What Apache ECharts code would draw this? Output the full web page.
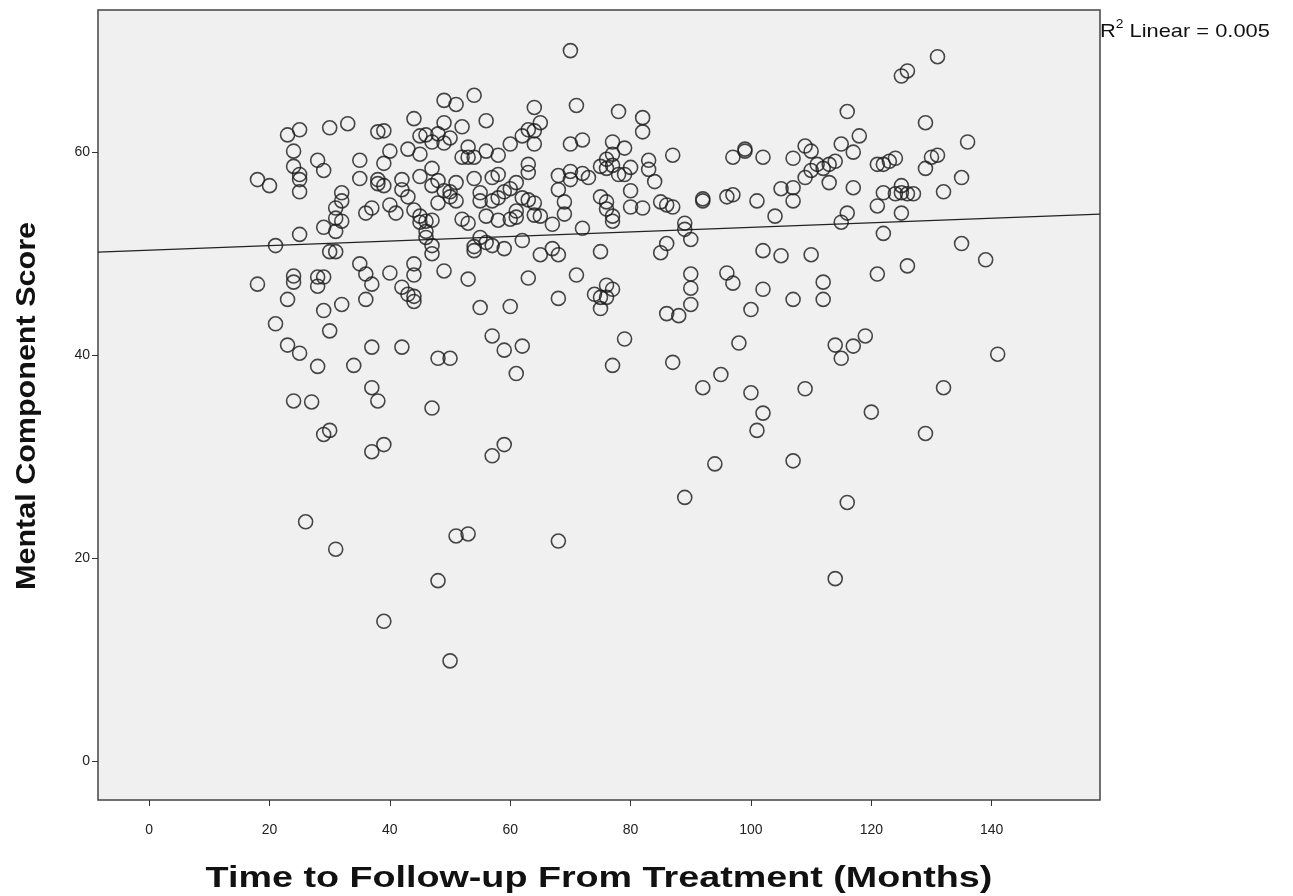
<!DOCTYPE html>
<html>
<head>
<meta charset="utf-8">
<script src="https://cdn.jsdelivr.net/npm/echarts@6/dist/echarts.min.js"></script>
<style>
  html, body { margin: 0; padding: 0; background: #fff; }
  #chart { width: 1293px; height: 896px; }
</style>
</head>
<body>
<div id="chart"></div>
<script>
// follow-up time (months) and mental component score, one entry per patient
const months = [
  18, 18,
  20,
  21, 21,
  23, 23, 23,
  24, 24, 24, 24, 24,
  25, 25, 25, 25, 25, 25,
  26,
  27,
  28, 28, 28, 28,
  29, 29, 29, 29, 29,
  30, 30, 30, 30,
  31, 31, 31, 31, 31,
  32, 32, 32, 32,
  33,
  34,
  35, 35, 35,
  36, 36, 36,
  37, 37, 37, 37, 37,
  38, 38, 38, 38,
  39, 39, 39, 39, 39,
  40, 40, 40,
  41,
  42, 42, 42, 42,
  43, 43, 43,
  44, 44, 44, 44, 44, 44,
  45, 45, 45, 45, 45,
  46, 46, 46, 46,
  47, 47, 47, 47, 47, 47, 47,
  48, 48, 48, 48, 48,
  49, 49, 49, 49, 49,
  50, 50, 50, 50, 50,
  51, 51, 51, 51,
  52, 52, 52,
  53, 53, 53, 53, 53,
  54, 54, 54, 54, 54,
  55, 55, 55, 55,
  56, 56, 56, 56,
  57, 57, 57, 57, 57,
  58, 58, 58, 58,
  59, 59, 59, 59,
  60, 60, 60, 60,
  61, 61, 61, 61,
  62, 62, 62, 62,
  63, 63, 63, 63, 63,
  64, 64, 64, 64, 64,
  65, 65, 65,
  67, 67,
  68, 68, 68, 68, 68,
  69, 69,
  70, 70, 70, 70,
  71, 71,
  72, 72, 72,
  73,
  74,
  75, 75, 75, 75, 75,
  76, 76, 76, 76, 76, 76,
  77, 77, 77, 77, 77, 77, 77,
  78, 78,
  79, 79, 79,
  80, 80, 80,
  82, 82, 82,
  83, 83,
  84,
  85, 85,
  86, 86, 86,
  87, 87, 87,
  88,
  89, 89, 89,
  90, 90, 90, 90,
  92, 92, 92,
  94,
  95,
  96, 96,
  97, 97, 97,
  98,
  99, 99,
  100, 100,
  101, 101,
  102, 102, 102, 102,
  104,
  105, 105,
  107, 107, 107, 107, 107,
  109, 109, 109,
  110, 110, 110,
  111,
  112, 112, 112,
  113, 113,
  114, 114, 114,
  115, 115, 115,
  116, 116, 116,
  117, 117, 117,
  118,
  119,
  120,
  121, 121, 121,
  122, 122, 122,
  123,
  124, 124,
  125, 125, 125, 125,
  126, 126, 126,
  127,
  129, 129, 129,
  130,
  131, 131,
  132, 132,
  135, 135,
  136,
  139,
  141
];

const scores = [
  57.3, 47,
  56.7,
  50.8, 43.1,
  61.7, 45.5, 41,
  60.1, 58.6, 47.8, 47.2, 35.5,
  62.2, 57.8, 57.3, 56.1, 51.9, 40.2,
  23.6,
  35.4,
  59.2, 47.7, 46.8, 38.9,
  58.2, 52.6, 47.7, 44.4, 32.2,
  62.4, 50.2, 42.4, 32.6,
  54.5, 53.5, 52.2, 50.2, 20.9,
  56, 55.2, 53.2, 45,
  62.8,
  39,
  59.2, 57.4, 49,
  54, 48, 45.5,
  54.5, 47, 40.8, 36.8, 30.5,
  62, 57.3, 56.9, 35.5,
  62.1, 58.9, 56.7, 31.2, 13.8,
  60.1, 54.8, 48.1,
  54,
  57.3, 56.3, 46.7, 40.8,
  60.3, 55.6, 46,
  63.3, 54.3, 49, 47.9, 45.3, 45.8,
  61.6, 59.8, 57.6, 53.7, 53.1,
  61.7, 53.2, 52.2, 51.6,
  61, 58.4, 56.7, 53.3, 50.8, 50, 34.8,
  61.8, 57.2, 55, 39.7, 17.8,
  65.1, 62.9, 60.9, 56.2, 48.3,
  61.4, 56.1, 55.6, 39.7, 9.9,
  64.7, 57, 55.2, 22.2,
  62.5, 59.5, 53.4,
  60.5, 59.5, 53, 47.5, 22.4,
  65.6, 59.5, 57.4, 50.7, 50.3,
  56, 55.2, 51.6, 44.7,
  63.1, 60.1, 53.7, 51.1,
  57.5, 55.2, 50.8, 41.9, 30.1,
  59.7, 57.8, 55.5, 53.3,
  56.1, 50.5, 40.5, 31.2,
  60.8, 56.4, 53.4, 44.8,
  57, 54.2, 53.6, 38.2,
  61.6, 55.5, 51.3, 40.9,
  62.2, 58.8, 58, 55.3, 47.6,
  64.4, 62.1, 60.8, 55, 53.8,
  62.9, 53.7, 49.9,
  52.9, 50.5,
  57.7, 56.3, 49.9, 45.6, 21.7,
  55.1, 53.9,
  70, 60.8, 58.1, 57.3,
  64.6, 47.9,
  61.2, 57.9, 52.5,
  57.5,
  46,
  58.6, 55.6, 50.2, 45.7, 44.6,
  59.3, 58.4, 55.1, 54.4, 46.9, 45.7,
  61, 59.8, 58.7, 53.7, 53.2, 46.5, 39,
  64, 57.8,
  60.4, 57.8, 41.6,
  58.5, 56.2, 54.6,
  63.4, 62, 54.5,
  59.2, 58.3,
  57.1,
  55.1, 50.1,
  54.8, 51, 44.1,
  59.7, 54.6, 39.3,
  43.9,
  53, 52.4, 26,
  51.4, 48, 46.6, 45,
  55.4, 55.2, 36.8,
  29.3,
  38.1,
  55.6, 48.1,
  59.5, 55.8, 47.1,
  41.2,
  60.3, 60.1,
  44.5, 36.3,
  55.2, 32.6,
  59.5, 50.3, 46.5, 34.3,
  53.7,
  56.4, 49.8,
  59.4, 56.5, 55.2, 45.5, 29.6,
  60.6, 57.5, 36.7,
  60.1, 58.2, 49.9,
  58.8,
  58.4, 47.2, 45.5,
  58.8, 57,
  59.1, 41, 18,
  60.8, 53.1, 39.7,
  64, 54, 25.5,
  60, 56.5, 40.9,
  61.6,
  41.9,
  34.4,
  58.8, 54.7, 48,
  58.8, 56, 52,
  59.1,
  59.4, 55.9,
  67.5, 56.7, 56, 54,
  68, 55.9, 48.8,
  55.9,
  62.9, 58.4, 32.3,
  59.5,
  69.4, 59.7,
  56.1, 36.8,
  57.5, 51,
  61,
  49.4,
  40.1
];

const xTicks = [0, 20, 40, 60, 80, 100, 120, 140];
const yTicks = [0, 20, 40, 60];

// fit line
const fitIntercept = 50.34;
const fitSlope = 0.0225;
const rSquared = '0.005';

const X_MIN = -8.5, X_MAX = 158;
const Y_MIN = -3.8, Y_MAX = 74;

const points = months.map((m, i) => [m, scores[i]]);
const fitLine = [X_MIN, X_MAX].map(x => [x, fitIntercept + fitSlope * x]);

const chart = echarts.init(document.getElementById('chart'));

const option = {
  animation: false,
  backgroundColor: '#ffffff',
  textStyle: { fontFamily: 'Liberation Sans, Arial, sans-serif' },
  grid: {
    left: 98,
    top: 10,
    width: 1002,
    height: 790,
    show: true,
    backgroundColor: '#f0f0f0',
    borderColor: '#444',
    borderWidth: 1.5
  },
  xAxis: {
    type: 'value',
    min: X_MIN,
    max: X_MAX,
    axisLine: { show: false, onZero: false },
    splitLine: { show: false },
    axisTick: {
      show: true,
      customValues: xTicks,
      length: 6,
      lineStyle: { color: '#333', width: 1 }
    },
    axisLabel: {
      customValues: xTicks,
      fontSize: 14,
      color: '#222',
      margin: 23
    }
  },
  yAxis: {
    type: 'value',
    min: Y_MIN,
    max: Y_MAX,
    axisLine: { show: false, onZero: false },
    splitLine: { show: false },
    axisTick: {
      show: true,
      customValues: yTicks,
      length: 6,
      lineStyle: { color: '#333', width: 1 }
    },
    axisLabel: {
      customValues: yTicks,
      fontSize: 14,
      color: '#222',
      margin: 8
    }
  },
  graphic: [
    {
      type: 'text',
      x: 599,
      y: 879,
      scaleX: 1.3,
      style: {
        text: 'Time to Follow-up From Treatment (Months)',
        align: 'center',
        verticalAlign: 'middle',
        fontSize: 29,
        fontWeight: 'bold',
        fill: '#111',
        fontFamily: 'Liberation Sans, Arial, sans-serif'
      }
    },
    {
      type: 'text',
      x: 27,
      y: 406,
      rotation: Math.PI / 2,
      scaleX: 1.09,
      style: {
        text: 'Mental Component Score',
        align: 'center',
        verticalAlign: 'middle',
        fontSize: 28,
        fontWeight: 'bold',
        fill: '#111',
        fontFamily: 'Liberation Sans, Arial, sans-serif'
      }
    },
    {
      type: 'text',
      x: 1100,
      y: 30,
      scaleX: 1.15,
      style: {
        text: '{r|R}{s|2}{r| Linear = ' + rSquared + '}',
        verticalAlign: 'middle',
        rich: {
          r: { fontSize: 19, fill: '#111', verticalAlign: 'bottom', lineHeight: 22 },
          s: { fontSize: 12, fill: '#111', verticalAlign: 'top', lineHeight: 22 }
        },
        fontFamily: 'Liberation Sans, Arial, sans-serif'
      }
    }
  ],
  series: [
    {
      name: 'Mental Component Score',
      type: 'scatter',
      data: points,
      symbol: 'circle',
      symbolSize: 14,
      itemStyle: {
        color: 'rgba(0,0,0,0)',
        borderColor: '#1a1a1a',
        borderWidth: 1.6
      }
    },
    {
      name: 'Linear fit',
      type: 'line',
      data: fitLine,
      symbol: 'none',
      lineStyle: { color: '#222', width: 1.2 },
      z: 1
    }
  ]
};

chart.setOption(option);
</script>
</body>
</html>
